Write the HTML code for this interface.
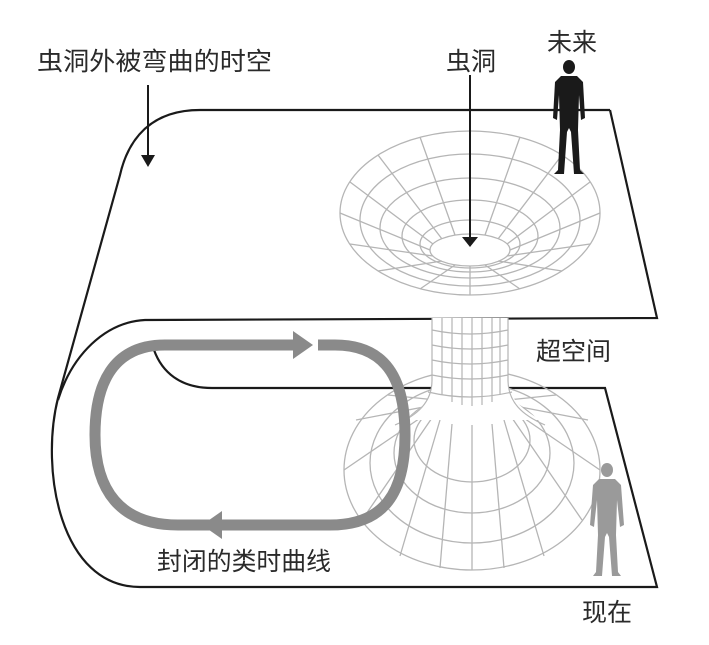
<!DOCTYPE html>
<html><head><meta charset="utf-8"><style>
html,body{margin:0;padding:0;background:#fff;}
svg{display:block}
text{font-family:"Liberation Sans","Noto Sans CJK SC",sans-serif;font-size:25px;fill:#2a2a2a}
</style></head><body>
<svg width="709" height="645" viewBox="0 0 709 645" xmlns="http://www.w3.org/2000/svg">
<!-- sheets -->
<g fill="none" stroke="#1a1a1a" stroke-width="2.2">
<path d="M610,110 L200,110 C150,110 128,140 120,175 L58,398 C40,470 60,587 140,587 L657,587 L605,388 L212,388 C180,388 162,372 154,350"/>
<path d="M610,110 L657,318 L145,320 C105,322 72,355 58,400"/>
</g>
<!-- lower flare -->
<g fill="none" stroke="#b5b5b5" stroke-width="1.3">
<ellipse cx="472" cy="470" rx="128" ry="100"/>
<ellipse cx="472" cy="463" rx="102" ry="80"/>
<ellipse cx="472" cy="453" rx="78" ry="60"/>
<ellipse cx="472" cy="440" rx="58" ry="42"/>
<path d="M344,470 L432,410 M356,420 L434,405 M388,395 L436,400 M362,520 L434,415 M400,556 L440,420 M440,568 L452,424 M472,570 L472,425 M504,568 L492,424 M544,556 L504,420 M582,520 L510,415 M600,470 L512,410 M588,420 L510,405 M556,395 L508,400"/>
</g>
<!-- tube -->
<path d="M432,318 L432,380 C432,400 420,410 405,420 L540,420 C525,410 508,400 508,380 L508,318 Z" fill="#fff" stroke="none"/>
<g fill="none" stroke="#b5b5b5" stroke-width="1.2">
<path d="M432,318 L432,380 C432,402 418,415 395,425 M508,318 L508,380 C508,402 522,415 545,425"/>
<path d="M442,318 V395 M452,318 V402 M462,318 V405 M472,318 V406 M482,318 V405 M492,318 V402 M500,318 V395"/>
<path d="M432,330 Q470,338 508,330 M432,345 Q470,353 508,345 M432,360 Q470,368 508,360 M432,375 Q470,383 508,375 M428,392 Q470,402 512,392"/>
</g>
<!-- upper funnel -->
<g fill="none" stroke="#b5b5b5" stroke-width="1.3">
<ellipse cx="470" cy="213" rx="130" ry="82" fill="#fff"/>
<ellipse cx="470" cy="220" rx="110" ry="66"/>
<ellipse cx="470" cy="228" rx="90" ry="50"/>
<ellipse cx="470" cy="236" rx="68" ry="36"/>
<ellipse cx="470" cy="244" rx="50" ry="24"/>
<ellipse cx="470" cy="250" rx="40" ry="16"/>
<path d="M600,213 L510,250 M590,244 L507,256 M562,271 L498,261 M520,289 L485,265 M470,295 L470,266 M420,289 L455,265 M378,271 L442,261 M350,244 L433,256 M340,213 L430,250 M350,182 L433,244 M378,155 L442,239 M420,137 L455,235 M470,131 L470,234 M520,137 L485,235 M562,155 L498,239 M590,182 L507,244"/>
</g>
<!-- arrows -->
<g stroke="#1a1a1a" stroke-width="2">
<line x1="148" y1="85" x2="148" y2="158"/>
<line x1="470" y1="75" x2="470" y2="238"/>
</g>
<polygon points="141,155 155,155 148,167" fill="#1a1a1a"/>
<polygon points="462,237 478,237 470,247" fill="#1a1a1a"/>
<!-- loop -->
<path d="M298,345 L165,345 C112,345 95,385 95,435 C95,490 120,525 178,525 L215,525" fill="none" stroke="#8a8a8a" stroke-width="11"/>
<path d="M318,345 L335,345 C390,345 405,385 405,435 C405,492 385,525 330,525 L208,525" fill="none" stroke="#8a8a8a" stroke-width="11"/>
<polygon points="293,331 313,345 293,359" fill="#8a8a8a"/>
<polygon points="222,511 202,525 222,539" fill="#8a8a8a"/>
<!-- figures -->
<g fill="#1a1a1a">
<ellipse cx="569" cy="67" rx="6" ry="7"/>
<path d="M561,76 L577,76 L583,82 L585,118 L581,120 L579,95 L578,130 L580,170 L584,174 L574,174 L571,132 L569,128 L567,132 L564,174 L554,174 L558,170 L560,130 L559,95 L557,120 L553,118 L555,82 Z"/>
</g>
<g fill="#9a9a9a">
<ellipse cx="607" cy="470" rx="6" ry="7"/>
<path d="M599,479 L615,479 L621,485 L624,525 L620,527 L617,500 L616,535 L618,572 L621,576 L612,576 L609,537 L607,533 L605,537 L602,576 L593,576 L596,572 L598,535 L597,500 L594,527 L590,525 L593,485 Z"/>
</g>
<!-- labels -->
<text x="37" y="70" textLength="235" lengthAdjust="spacingAndGlyphs">虫洞外被弯曲的时空</text>
<text x="446" y="70">虫洞</text>
<text x="547" y="51">未来</text>
<text x="536" y="360">超空间</text>
<text x="157" y="570" textLength="174" lengthAdjust="spacingAndGlyphs">封闭的类时曲线</text>
<text x="582" y="621">现在</text>
</svg>
</body></html>
